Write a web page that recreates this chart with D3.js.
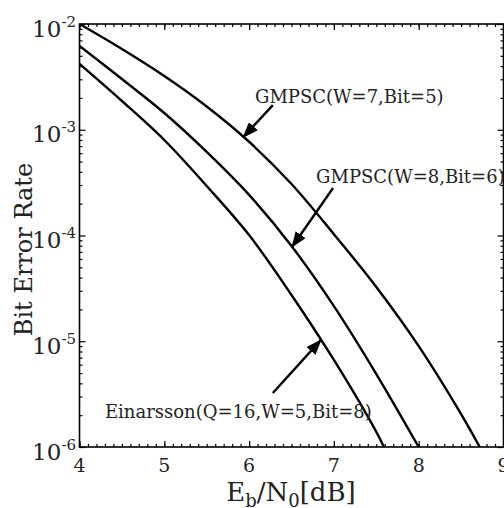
<!DOCTYPE html>
<html>
<head>
<meta charset="utf-8">
<script src="https://cdn.jsdelivr.net/npm/d3@7"></script>
<style>
body { margin: 0; background: #fff; }
text { font-family: "DejaVu Serif", serif; fill: #222; }
</style>
</head>
<body>
<div id="app"></div>
<script>
// curve values
var ebn0W7 = [4, 4.5, 5, 5.5, 6, 6.5, 7, 7.5, 8, 8.5, 8.72];
var berW7 = [1.0e-2, 5.8e-3, 3.22e-3, 1.66e-3, 7.7e-4, 3.07e-4, 1.03e-4, 3.26e-5, 9.0e-6, 2.05e-6, 1.0e-6];
var ebn0W8 = [4, 4.5, 5, 5.5, 6, 6.5, 7, 7.5, 8];
var berW8 = [6.2e-3, 3.02e-3, 1.44e-3, 6.17e-4, 2.42e-4, 7.96e-5, 2.15e-5, 4.9e-6, 1.0e-6];
var ebn0Ein = [4, 4.5, 5, 5.5, 6, 6.5, 7, 7.5, 7.59];
var berEin = [4.19e-3, 1.87e-3, 8.0e-4, 2.94e-4, 1.01e-4, 2.74e-5, 6.65e-6, 1.39e-6, 1.0e-6];

var xTicks = [4, 5, 6, 7, 8, 9];
var yTicks = [1e-2, 1e-3, 1e-4, 1e-5, 1e-6];
var yExponents = ["-2", "-3", "-4", "-5", "-6"];

// annotations: label start, arrow tail, arrow tip (data units)
var labelNames = ["GMPSC(W=7,Bit=5)", "GMPSC(W=8,Bit=6)", "Einarsson(Q=16,W=5,Bit=8)"];
var labelAt = [[6.07, 1.79e-3], [6.79, 3.13e-4], [4.30, 1.88e-6]];
var arrowFrom = [[6.28, 1.71e-3], [6.99, 2.81e-4], [6.28, 3.24e-6]];
var arrowTo = [[5.93, 8.5e-4], [6.506, 7.78e-5], [6.848, 1.03e-5]];

var width = 504, height = 508;
var pLeft = 79.5, pRight = 503.5, pTop = 24, pBottom = 447;

var svg = d3.select("#app").append("svg")
    .attr("width", width)
    .attr("height", height);

var x = d3.scaleLinear().domain([4, 9]).range([pLeft, pRight]);
var y = d3.scaleLog().domain([1e-6, 1e-2]).range([pBottom, pTop]);

var xMinor = d3.range(40, 91).map(function(d) { return d / 10; });
var yMinor = [];
for (var e = -6; e < -2; e++) {
    for (var m = 2; m < 10; m++) yMinor.push(m * Math.pow(10, e));
}

var defs = svg.append("defs");
defs.append("clipPath").attr("id", "plot")
    .append("rect")
    .attr("x", pLeft).attr("y", pTop)
    .attr("width", pRight - pLeft).attr("height", pBottom - pTop);

var marker = defs.append("marker")
    .attr("id", "head")
    .attr("markerUnits", "userSpaceOnUse")
    .attr("viewBox", "0 0 16 12")
    .attr("refX", 15).attr("refY", 6)
    .attr("markerWidth", 16).attr("markerHeight", 12)
    .attr("orient", "auto");
marker.append("path").attr("d", "M0,0L16,6L0,12Z").attr("fill", "#000");

// ticks, all pointing inward
function tickAxis(axis, values, size, tx, ty) {
    var g = svg.append("g")
        .attr("transform", "translate(" + tx + "," + ty + ")")
        .call(axis.tickValues(values).tickSize(size).tickSizeOuter(0).tickFormat(""));
    g.select(".domain").remove();
    g.selectAll("line").attr("stroke", "#000").attr("stroke-width", 1.2);
    return g;
}

tickAxis(d3.axisBottom(x), xMinor, -3, 0, pBottom);
tickAxis(d3.axisBottom(x), xTicks, -6, 0, pBottom);
tickAxis(d3.axisTop(x), xMinor, -3, 0, pTop);
tickAxis(d3.axisTop(x), xTicks, -6, 0, pTop);
tickAxis(d3.axisLeft(y), yMinor, -3, pLeft, 0);
tickAxis(d3.axisLeft(y), yTicks, -6, pLeft, 0);
tickAxis(d3.axisRight(y), yMinor, -3, pRight, 0);
tickAxis(d3.axisRight(y), yTicks, -6, pRight, 0);

svg.append("rect")
    .attr("x", pLeft).attr("y", pTop)
    .attr("width", pRight - pLeft).attr("height", pBottom - pTop)
    .attr("fill", "none").attr("stroke", "#000").attr("stroke-width", 1.6);

// tick labels
svg.append("g").selectAll("text")
    .data(xTicks)
    .enter().append("text")
    .attr("x", function(d) { return x(d); })
    .attr("y", pBottom + 25)
    .attr("text-anchor", "middle")
    .attr("font-size", 19)
    .text(function(d) { return d; });

var yLab = svg.append("g").selectAll("text")
    .data(yTicks)
    .enter().append("text")
    .attr("x", 76)
    .attr("y", function(d) { return y(d) + 12.5; })
    .attr("text-anchor", "end")
    .attr("font-size", 23);
yLab.append("tspan").text("10");
yLab.append("tspan")
    .attr("font-size", 15)
    .attr("dy", -10)
    .text(function(d, i) { return yExponents[i]; });

// curves
var line = d3.line()
    .x(function(d) { return x(d[0]); })
    .y(function(d) { return y(d[1]); })
    .curve(d3.curveCatmullRom.alpha(0.5));

var curves = [d3.zip(ebn0W7, berW7), d3.zip(ebn0W8, berW8), d3.zip(ebn0Ein, berEin)];

svg.append("g").attr("clip-path", "url(#plot)")
    .selectAll("path")
    .data(curves)
    .enter().append("path")
    .attr("d", line)
    .attr("fill", "none")
    .attr("stroke", "#000")
    .attr("stroke-width", 2.4);

// annotations
svg.append("g").selectAll("line")
    .data(arrowFrom)
    .enter().append("line")
    .attr("x1", function(d) { return x(d[0]); })
    .attr("y1", function(d) { return y(d[1]); })
    .attr("x2", function(d, i) { return x(arrowTo[i][0]); })
    .attr("y2", function(d, i) { return y(arrowTo[i][1]); })
    .attr("stroke", "#000")
    .attr("stroke-width", 2.4)
    .attr("marker-end", "url(#head)");

svg.append("g").selectAll("text")
    .data(labelNames)
    .enter().append("text")
    .attr("x", function(d, i) { return x(labelAt[i][0]); })
    .attr("y", function(d, i) { return y(labelAt[i][1]); })
    .attr("font-size", 18)
    .text(function(d) { return d; });

// axis titles
svg.append("text")
    .attr("transform", "translate(32," + ((pTop + pBottom) / 2 + 14) + ") rotate(-90)")
    .attr("text-anchor", "middle")
    .attr("font-size", 24)
    .text("Bit Error Rate");

var xt = svg.append("text")
    .attr("x", 291)
    .attr("y", 501)
    .attr("text-anchor", "middle")
    .attr("font-size", 26);
xt.append("tspan").text("E");
xt.append("tspan").attr("font-size", 18).attr("dy", 6).text("b");
xt.append("tspan").attr("dy", -6).text("/N");
xt.append("tspan").attr("font-size", 18).attr("dy", 6).text("0");
xt.append("tspan").attr("dy", -6).text("[dB]");
</script>
</body>
</html>
